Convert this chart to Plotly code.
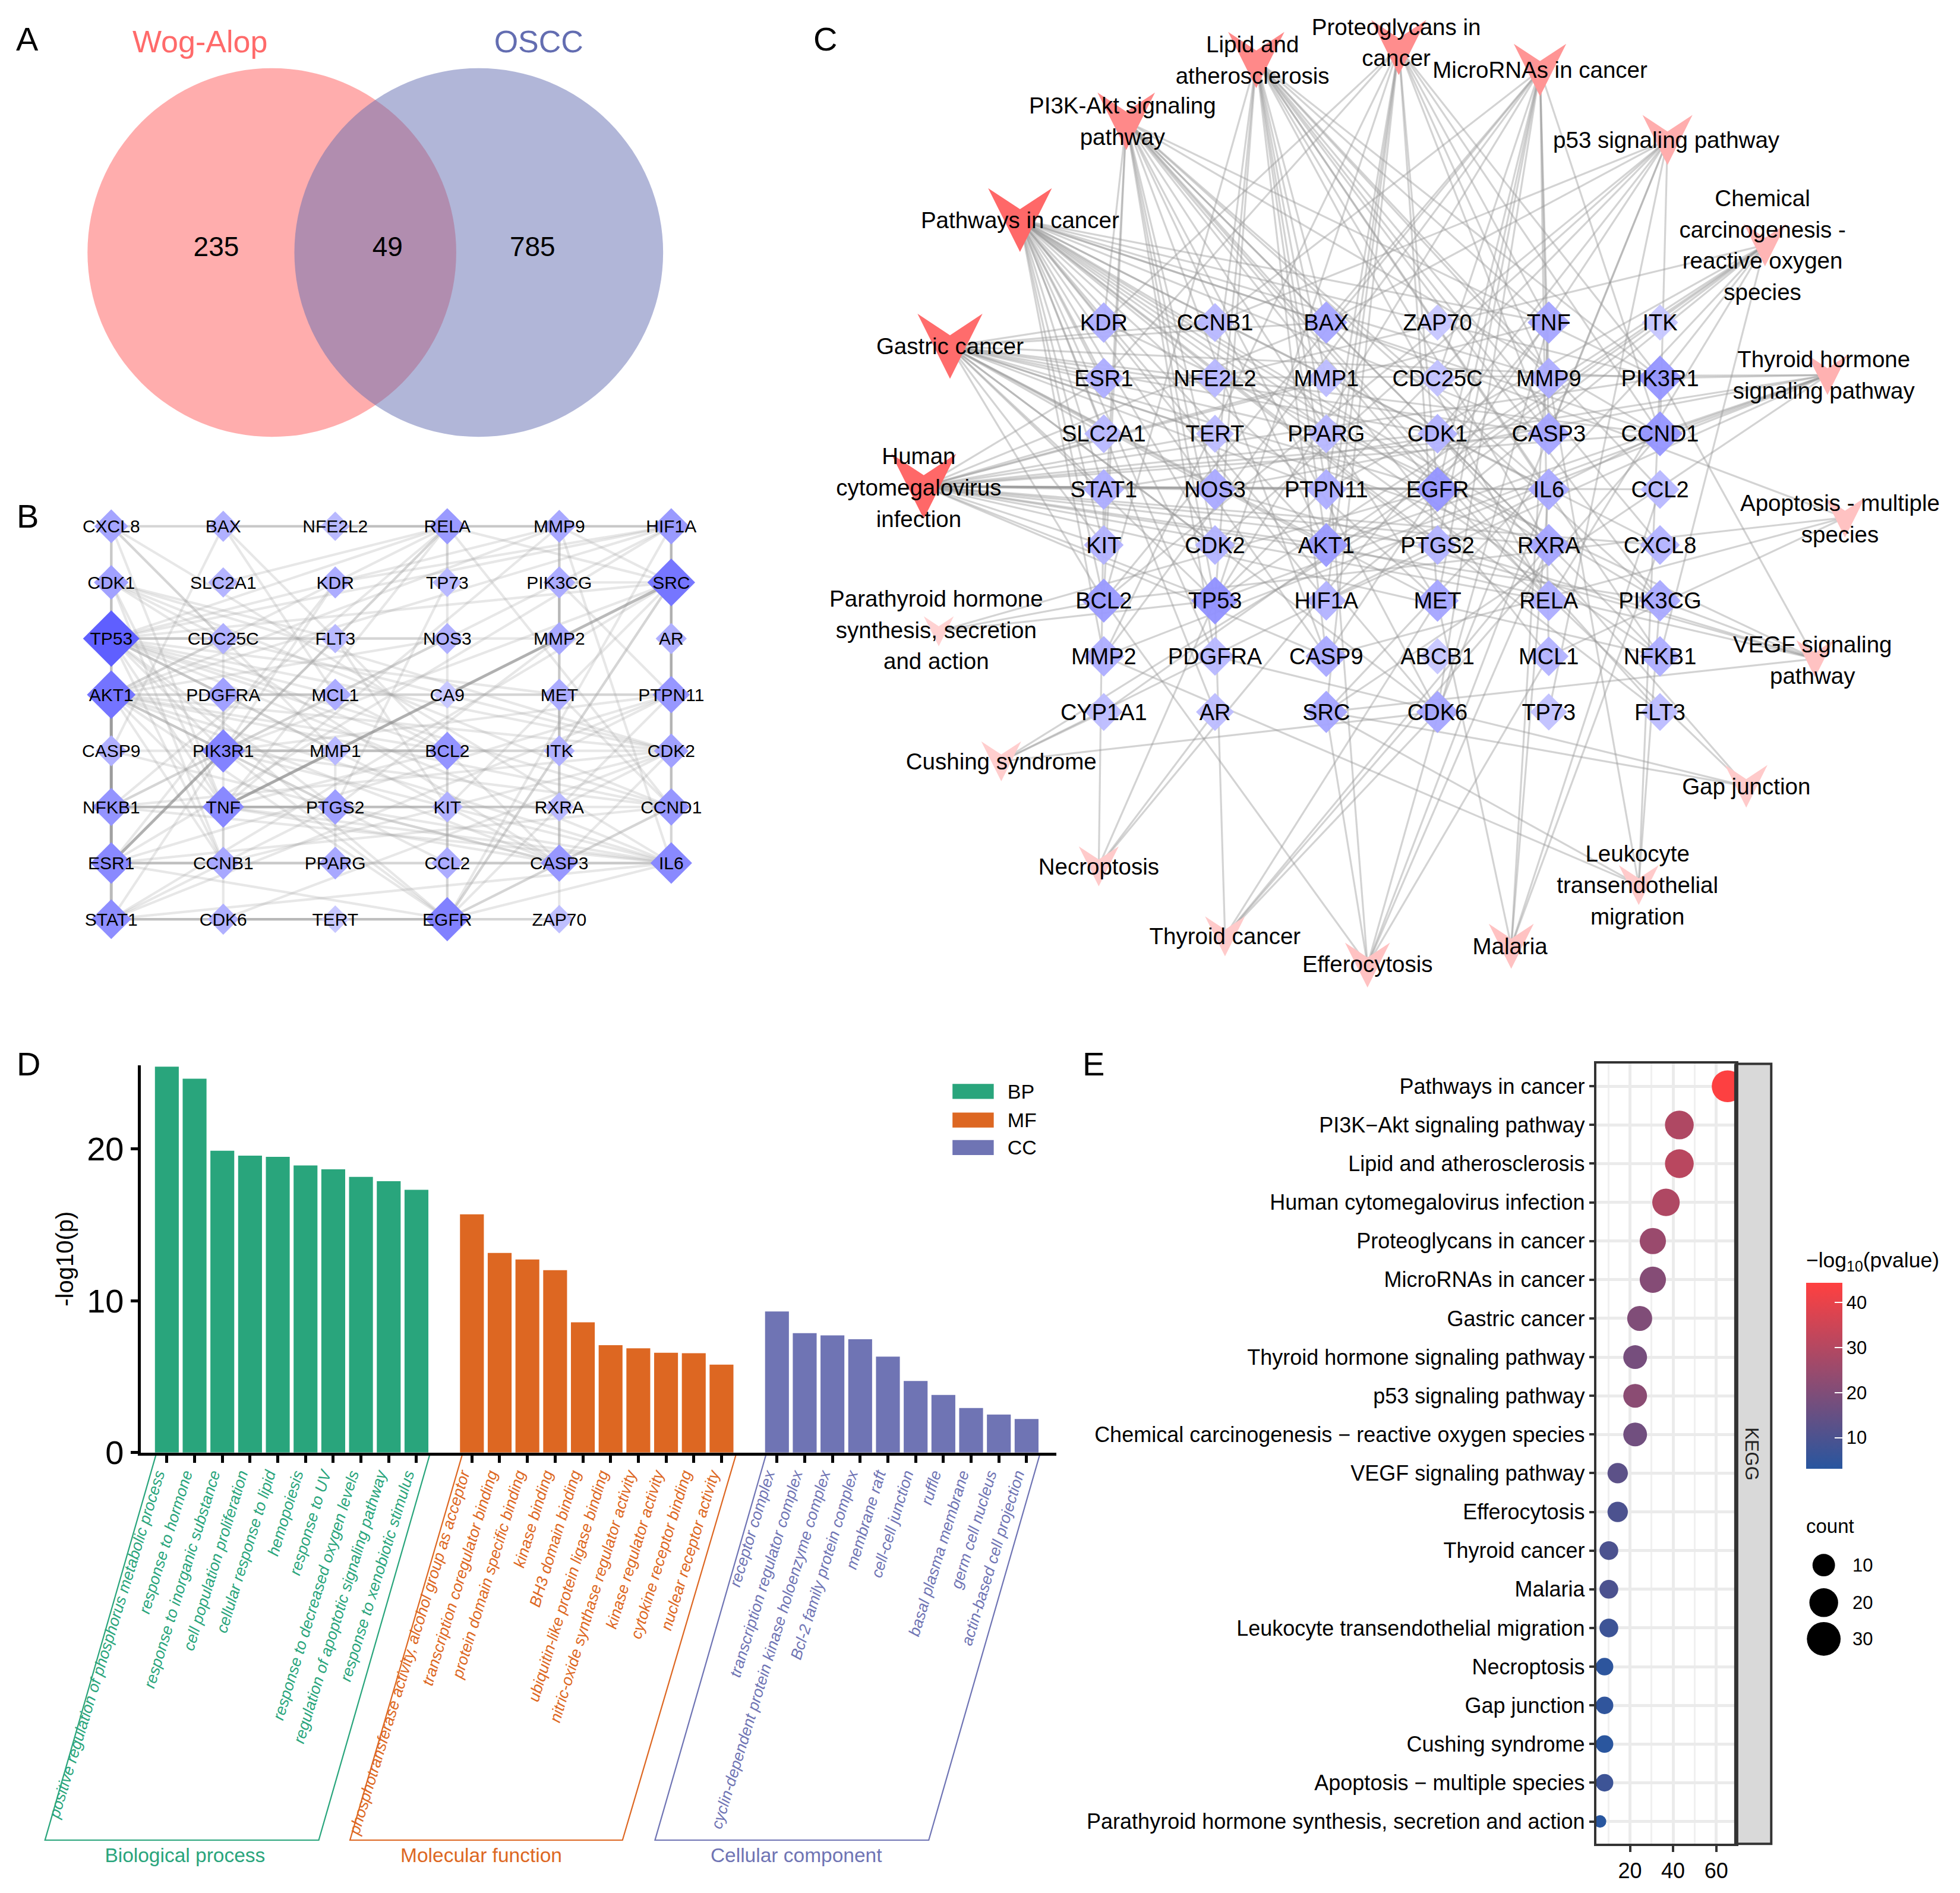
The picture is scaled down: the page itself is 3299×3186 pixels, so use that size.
import numpy as np
import plotly.graph_objects as go

W, H = 3299, 3186
S = W / 1568.0          # layout grid unit -> output px
FONT = "Liberation Sans"

# ---------- A: Venn ----------
venn_sets = ["Wog-Alop", "OSCC"]
venn_counts = ["235", "49", "785"]

# ---------- B: PPI network ----------
b_genes = [
    ["CXCL8", "BAX", "NFE2L2", "RELA", "MMP9", "HIF1A"],
    ["CDK1", "SLC2A1", "KDR", "TP73", "PIK3CG", "SRC"],
    ["TP53", "CDC25C", "FLT3", "NOS3", "MMP2", "AR"],
    ["AKT1", "PDGFRA", "MCL1", "CA9", "MET", "PTPN11"],
    ["CASP9", "PIK3R1", "MMP1", "BCL2", "ITK", "CDK2"],
    ["NFKB1", "TNF", "PTGS2", "KIT", "RXRA", "CCND1"],
    ["ESR1", "CCNB1", "PPARG", "CCL2", "CASP3", "IL6"],
    ["STAT1", "CDK6", "TERT", "EGFR", "ZAP70"],
]
b_degree = [
    [10, 7, 5, 13, 9, 13],
    [11, 6, 8, 5, 8, 26],
    [36, 7, 5, 7, 9, 7],
    [27, 11, 8, 3, 8, 14],
    [7, 21, 5, 15, 7, 11],
    [15, 19, 12, 7, 5, 14],
    [19, 9, 9, 8, 14, 19],
    [17, 7, 3, 22, 4],
]
b_links = {
    "TP53": "CXCL8 CDK1 AKT1 STAT1 CDC25C PDGFRA PIK3R1 TNF CCNB1 MCL1 MMP1 MMP2 PTGS2 BCL2 RELA HIF1A MMP9 MET CASP3 CCND1 IL6 EGFR SRC CDK2 NOS3",
    "AKT1": "CDK1 PIK3R1 TNF CCNB1 CDC25C PTGS2 BCL2 CCL2 EGFR MMP9 RELA HIF1A MET CASP3 CCND1 IL6 PTPN11 CDK2 NOS3",
    "SRC": "TNF PIK3R1 PIK3CG EGFR CCND1 STAT1 KIT ITK PTPN11 HIF1A AR RELA MMP9",
    "PIK3R1": "NFKB1 ESR1 STAT1 KDR FLT3 NOS3 BCL2 EGFR PTPN11 ITK CCND1 IL6 RELA PDGFRA CDK2",
    "EGFR": "ESR1 STAT1 CDK6 TERT CASP3 IL6 ZAP70 CCND1 ITK KIT PTPN11 HIF1A CCL2",
    "TNF": "CXCL8 CDK1 NFKB1 CCNB1 PTGS2 IL6 CASP3 MMP9 RELA MMP1 MMP2 BCL2 RXRA",
    "IL6": "CXCL8 STAT1 NFKB1 ESR1 CCL2 CASP3 HIF1A MMP9 PTGS2 CCND1",
    "ESR1": "CCNB1 PPARG CCND1 RELA CASP3 KDR HIF1A PTPN11",
    "STAT1": "CDK6 TERT ZAP70 PTPN11 PTGS2",
    "NFKB1": "CXCL8 CCND1 PTGS2 KIT RXRA RELA HIF1A CDK2",
    "CCND1": "CDK1 CDK2 CASP3 HIF1A RELA MET",
    "BCL2": "CASP9 CASP3 MCL1 BAX KIT CCL2 NOS3",
    "CASP3": "CASP9 CDK1 PTGS2 ITK RXRA CDK2",
    "RELA": "CXCL8 BAX NFE2L2 MMP9 HIF1A NOS3 TP73 SLC2A1",
    "HIF1A": "MMP9 KDR PTPN11 CDK2 NFE2L2",
    "PTPN11": "MET AR CDK2 PIK3CG ITK",
    "CDK1": "CXCL8 CCNB1 CDC25C CDK2 FLT3",
    "CDK2": "CCNB1 CDK6 CDC25C RXRA AR",
    "PTGS2": "PPARG MMP1 MMP2 TP73",
    "MMP9": "MMP2 PIK3CG ITK",
    "CXCL8": "BAX CDC25C MMP1",
    "BAX": "NFE2L2 CASP9 MCL1",
    "PDGFRA": "CDC25C CCNB1 MCL1",
    "CCNB1": "CDK6",
    "KIT": "CCL2 FLT3",
    "MET": "ITK",
    "PIK3CG": "MMP2 ZAP70 RXRA",
    "CDK6": "TERT",
}
b_strong = ["AKT1 CASP9", "CASP9 NFKB1", "NFKB1 ESR1", "ESR1 STAT1", "SRC TNF", "ESR1 PIK3R1", "AKT1 ESR1"]

# ---------- C: gene-pathway network ----------
c_genes = [
    ["KDR", "CCNB1", "BAX", "ZAP70", "TNF", "ITK"],
    ["ESR1", "NFE2L2", "MMP1", "CDC25C", "MMP9", "PIK3R1"],
    ["SLC2A1", "TERT", "PPARG", "CDK1", "CASP3", "CCND1"],
    ["STAT1", "NOS3", "PTPN11", "EGFR", "IL6", "CCL2"],
    ["KIT", "CDK2", "AKT1", "PTGS2", "RXRA", "CXCL8"],
    ["BCL2", "TP53", "HIF1A", "MET", "RELA", "PIK3CG"],
    ["MMP2", "PDGFRA", "CASP9", "ABCB1", "MCL1", "NFKB1"],
    ["CYP1A1", "AR", "SRC", "CDK6", "TP73", "FLT3"],
]
pathways = [
    "Pathways in cancer", "Gastric cancer", "Human cytomegalovirus infection",
    "Parathyroid hormone synthesis, secretion and action", "Cushing syndrome",
    "Necroptosis", "Thyroid cancer", "Efferocytosis", "Malaria",
    "Leukocyte transendothelial migration", "Gap junction", "VEGF signaling pathway",
    "Apoptosis - multiple species", "Thyroid hormone signaling pathway",
    "Chemical carcinogenesis - reactive oxygen species", "p53 signaling pathway",
    "MicroRNAs in cancer", "Proteoglycans in cancer", "Lipid and atherosclerosis",
    "PI3K-Akt signaling pathway",
]
pathway_labels = [
    ["Pathways in cancer"], ["Gastric cancer"], ["Human", "cytomegalovirus", "infection"],
    ["Parathyroid hormone", "synthesis, secretion", "and action"], ["Cushing syndrome"],
    ["Necroptosis"], ["Thyroid cancer"], ["Efferocytosis"], ["Malaria"],
    ["Leukocyte", "transendothelial", "migration"], ["Gap junction"], ["VEGF signaling", "pathway"],
    ["Apoptosis - multiple", "species"], ["Thyroid hormone", "signaling pathway"],
    ["Chemical", "carcinogenesis -", "reactive oxygen", "species"], ["p53 signaling pathway"],
    ["MicroRNAs in cancer"], ["Proteoglycans in", "cancer"], ["Lipid and", "atherosclerosis"],
    ["PI3K-Akt signaling", "pathway"],
]
pathway_genes = [
    "KDR BAX TNF ESR1 NFE2L2 MMP9 PIK3R1 SLC2A1 CASP3 CCND1 STAT1 EGFR IL6 KIT AKT1 PTGS2 RXRA CXCL8 BCL2 TP53 HIF1A MET RELA PIK3CG MMP2 PDGFRA CASP9 NFKB1 AR CDK6 FLT3 CDK2",
    "EGFR CCND1 AKT1 PIK3R1 TP53 MET RXRA CDK6 BAX BCL2 CDK2 SLC2A1 NOS3 PTPN11 STAT1 KIT CDK1 TERT PPARG CASP3 KDR CCNB1 ESR1",
    "BAX TNF PIK3R1 CCND1 CDK1 CASP3 STAT1 EGFR IL6 CCL2 AKT1 PTGS2 CXCL8 TP53 RELA PIK3CG CASP9 NFKB1 NOS3 PTPN11 SLC2A1 TERT RXRA ESR1 MMP1 KIT",
    "EGFR TP53 BCL2",
    "CYP1A1 EGFR CCND1 CDK6",
    "STAT1 AR TNF TP53",
    "CCND1 TP53 RXRA CDK6 MET",
    "BCL2 MCL1 RXRA PPARG TNF SRC IL6",
    "TNF IL6 MET CXCL8 CCL2",
    "MMP2 MMP9 PIK3R1 PIK3CG SRC",
    "SRC CDK1 EGFR PDGFRA",
    "KDR PIK3R1 NOS3 PTGS2 AKT1 SRC PIK3CG",
    "BAX BCL2 MCL1 CASP9",
    "ESR1 PIK3R1 CCND1 STAT1 AKT1 TP53 HIF1A SRC MMP2 NOS3",
    "NFE2L2 PIK3R1 AKT1 EGFR HIF1A TP53 CYP1A1 SRC NFKB1 RELA PTPN11",
    "CCNB1 BAX CDK1 CASP3 CCND1 CDK2 TP53 CASP9 CDK6 TP73 BCL2",
    "CCNB1 BAX CDC25C MMP9 CCND1 CASP3 EGFR CDK6 MET TP53 PTGS2 BCL2 MMP2 MCL1",
    "KDR TNF ESR1 MMP9 PIK3R1 CCND1 PTPN11 EGFR AKT1 TP53 HIF1A MET MMP2 CASP3 SRC",
    "BAX TNF NFE2L2 MMP1 MMP9 PIK3R1 CASP3 PPARG NOS3 PTPN11 IL6 CCL2 AKT1 RXRA CXCL8 BCL2 TP53 RELA PIK3CG CASP9 NFKB1",
    "KDR PIK3R1 CCND1 EGFR IL6 KIT CDK2 AKT1 RXRA BCL2 TP53 MET RELA PIK3CG PDGFRA CASP9 MCL1 NFKB1 CDK6 FLT3 NOS3",
]
# degree shown by each pathway node's colour
pathway_degree = [32, 28, 30, 3, 4, 5, 5, 7, 7, 5, 5, 7, 7, 11, 10, 12, 18, 20, 21, 21]
# network layout of the pathway nodes, and of the label blocks (layout grid units)
pw_layout_x = [816, 760, 739, 751, 801, 879, 980, 1094, 1209, 1311, 1397, 1452, 1476, 1462, 1412, 1334, 1232, 1119, 1005, 901]
pw_layout_y = [176, 277, 389, 505, 609, 693, 749, 772, 757, 708, 629, 527, 414, 300, 196, 112, 56, 38, 48, 97]
pw_width = [51, 52, 52, 24, 32, 32, 32, 36, 36, 32, 34, 30, 32, 32, 34, 40, 42, 44, 45, 46]
lab_layout_x = [816, 760, 735, 749, 801, 879, 980, 1094, 1208, 1310, 1397, 1450, 1472, 1459, 1410, 1333, 1232, 1117, 1002, 898]
lab_layout_y = [176, 277, 390, 504, 609, 693, 749, 771, 757, 708, 629, 528, 415, 300, 196, 112, 56, 34, 48, 97]

# ---------- D: GO bars ----------
bp_terms = ["positive regulation of phosphorus metabolic process", "response to hormone",
            "response to inorganic substance", "cell population proliferation",
            "cellular response to lipid", "hemopoiesis", "response to UV",
            "response to decreased oxygen levels", "regulation of apoptotic signaling pathway",
            "response to xenobiotic stimulus"]
bp_values = [25.4, 24.6, 19.86, 19.54, 19.46, 18.9, 18.64, 18.14, 17.86, 17.29]
mf_terms = ["phosphotransferase activity, alcohol group as acceptor", "transcription coregulator binding",
            "protein domain specific binding", "kinase binding", "BH3 domain binding",
            "ubiquitin-like protein ligase binding", "nitric-oxide synthase regulator activity",
            "kinase regulator activity", "cytokine receptor binding", "nuclear receptor activity"]
mf_values = [15.68, 13.14, 12.71, 12.0, 8.57, 7.07, 6.86, 6.57, 6.54, 5.79]
cc_terms = ["receptor complex", "transcription regulator complex",
            "cyclin-dependent protein kinase holoenzyme complex", "Bcl-2 family protein complex",
            "membrane raft", "cell-cell junction", "ruffle", "basal plasma membrane",
            "germ cell nucleus", "actin-based cell projection"]
cc_values = [9.29, 7.86, 7.71, 7.46, 6.32, 4.71, 3.79, 2.93, 2.5, 2.21]
go_groups = ["Biological process", "Molecular function", "Cellular component"]
go_short = ["BP", "MF", "CC"]

# ---------- E: KEGG dots ----------
kegg_terms = ["Pathways in cancer", "PI3K\u2212Akt signaling pathway", "Lipid and atherosclerosis",
              "Human cytomegalovirus infection", "Proteoglycans in cancer", "MicroRNAs in cancer",
              "Gastric cancer", "Thyroid hormone signaling pathway", "p53 signaling pathway",
              "Chemical carcinogenesis \u2212 reactive oxygen species", "VEGF signaling pathway",
              "Efferocytosis", "Thyroid cancer", "Malaria", "Leukocyte transendothelial migration",
              "Necroptosis", "Gap junction", "Cushing syndrome", "Apoptosis \u2212 multiple species",
              "Parathyroid hormone synthesis, secretion and action"]
kegg_ratio = [65.3, 42.9, 42.9, 36.7, 30.6, 30.6, 24.5, 22.4, 22.4, 22.4, 14.3, 14.3, 10.2, 10.2, 10.2, 8.2, 8.2, 8.2, 8.2, 6.1]
kegg_count = [32, 21, 21, 18, 15, 15, 12, 11, 11, 11, 7, 7, 5, 5, 5, 4, 4, 4, 4, 3]
kegg_logp = [44, 29, 31, 29, 25, 21, 20, 18, 22, 17, 13, 10, 10, 10, 7, 4, 4.5, 3.5, 7, 3]
size_legend = [10, 20, 30]

# ---------- colours ----------
PINK, BLUE_V = "#ff6a6a", "#636db1"
C_BP, C_MF, C_CC = "#29a57c", "#dd6722", "#6f74b4"
BAR_COLORS = [C_BP, C_MF, C_CC]


def mix(c0, c1, t):
    t = min(max(t, 0), 1)
    a = [int(c0[i:i + 2], 16) for i in (1, 3, 5)]
    b = [int(c1[i:i + 2], 16) for i in (1, 3, 5)]
    return "rgb(%d,%d,%d)" % tuple(round(x + (y - x) * t) for x, y in zip(a, b))


def px(v):
    return v * S


def fx(v):
    return v * S / W


def fy(v):
    return 1 - v * S / H


fig = go.Figure()


def edge(x0, y0, x1, y1, color, width):
    fig.add_trace(go.Scatter(x=[x0, x1], y=[y0, y1], mode="lines", xaxis="x", yaxis="y",
                             line=dict(color=color, width=width), hoverinfo="skip", showlegend=False))


def text_trace(xs, ys, texts, size, color="#000000", pos="middle center"):
    dy = 0.1 * size / S       # optical centring of the text block
    fig.add_trace(go.Scatter(x=xs, y=[y + dy for y in ys], text=texts, mode="text", xaxis="x", yaxis="y",
                             textposition=pos, cliponaxis=False,
                             textfont=dict(family=FONT, size=size, color=color),
                             hoverinfo="skip", showlegend=False))


# ---------- draw A ----------
shapes = []
for cx, col, op in [(217.5, "#ff6a6a", 0.55), (383, "#636db1", 0.5)]:
    shapes.append(dict(type="circle", xref="x", yref="y", x0=cx - 147.5, x1=cx + 147.5, y0=54.5, y1=349.5,
                       fillcolor=col, opacity=op, line=dict(width=0), layer="below"))
text_trace([160], [33], [venn_sets[0]], 52, PINK)
text_trace([431], [33], [venn_sets[1]], 52, BLUE_V)
text_trace([173, 310, 426], [197, 197, 197], venn_counts, 46)

# ---------- draw B ----------
bx = lambda c: 89 + c * 89.6
by = lambda r: 421 + r * 44.9
b_pos = {g: (bx(c), by(r)) for r, row in enumerate(b_genes) for c, g in enumerate(row)}
seen = set()
for hub, others in b_links.items():
    for o in others.split():
        key = tuple(sorted((hub, o)))
        if key in seen or hub == o:
            continue
        seen.add(key)
        edge(*b_pos[hub], *b_pos[o], "rgba(165,165,165,0.27)", 4.2)
for pair in b_strong:
    a, b = pair.split()
    edge(*b_pos[a], *b_pos[b], "rgba(130,130,130,0.45)", 5)

b_flat = [g for row in b_genes for g in row]
b_deg = [d for row in b_degree for d in row]
fig.add_trace(go.Scatter(
    x=[b_pos[g][0] for g in b_flat], y=[b_pos[g][1] for g in b_flat], mode="markers", xaxis="x", yaxis="y",
    marker=dict(symbol="diamond", opacity=1, size=[px(20 + 0.7 * d) / 1.3 for d in b_deg],
                color=[mix("#c8c8ff", "#5f5fff", ((d - 3) / 33) ** 0.7) for d in b_deg], line=dict(width=0)),
    hoverinfo="skip", showlegend=False))
text_trace([b_pos[g][0] for g in b_flat], [b_pos[g][1] for g in b_flat], b_flat, 30)

# ---------- draw C ----------
cx_ = lambda c: 883 + c * 89
cy_ = lambda r: 258 + r * 44.5
c_pos = {g: (cx_(c), cy_(r)) for r, row in enumerate(c_genes) for c, g in enumerate(row)}
c_flat = [g for row in c_genes for g in row]
pw_sets = [p.split() for p in pathway_genes]
c_deg = {g: sum(g in s for s in pw_sets) for g in c_flat}
for x0, y0, gs in zip(pw_layout_x, pw_layout_y, pw_sets):
    for g in gs:
        edge(x0, y0, *c_pos[g], "rgba(150,150,150,0.42)", 3.2)

fig.add_trace(go.Scatter(
    x=[c_pos[g][0] for g in c_flat], y=[c_pos[g][1] for g in c_flat], mode="markers", xaxis="x", yaxis="y",
    marker=dict(symbol="diamond", opacity=0.95, size=[px(29 + 0.7 * c_deg[g]) / 1.3 for g in c_flat],
                color=[mix("#c6c6ff", "#9090ff", c_deg[g] / 11) for g in c_flat], line=dict(width=0)),
    hoverinfo="skip", showlegend=False))
for x0, y0, w, d in zip(pw_layout_x, pw_layout_y, pw_width, pathway_degree):
    h = w
    fig.add_trace(go.Scatter(
        x=[x0 - w / 2, x0, x0 + w / 2, x0, x0 - w / 2],
        y=[y0 - h / 2, y0 - h * 0.17, y0 - h / 2, y0 + h / 2, y0 - h / 2],
        mode="lines", fill="toself", fillcolor=mix("#ffd2d2", "#ff6868", (d - 3) / 26),
        line=dict(width=0), xaxis="x", yaxis="y", hoverinfo="skip", showlegend=False))
text_trace([c_pos[g][0] for g in c_flat], [c_pos[g][1] for g in c_flat], c_flat, 38)
lab_x, lab_y, lab_t = [], [], []
for lx, ly, lines in zip(lab_layout_x, lab_layout_y, pathway_labels):
    for i, line in enumerate(lines):
        lab_x.append(lx)
        lab_y.append(ly + (i - (len(lines) - 1) / 2) * 25)
        lab_t.append(line)
text_trace(lab_x, lab_y, lab_t, 38.5)

# ---------- draw D ----------
go_cats, tick_vals, tick_text = [], [], []
for gi, (terms, vals, col) in enumerate(zip([bp_terms, mf_terms, cc_terms], [bp_values, mf_values, cc_values], BAR_COLORS)):
    fig.add_trace(go.Bar(x=terms, y=vals, marker=dict(color=col, line=dict(width=0)), width=0.86,
                         xaxis="x2", yaxis="y2", hoverinfo="skip", showlegend=False))
    go_cats += terms
    if gi < 2:
        go_cats.append(" " * (gi + 1))
    tick_vals += terms
    tick_text += ['<i><span style="color:%s">%s</span></i>' % (col, t) for t in terms]

for (xbl, xbr, xtr, xtl), col, name, lx in zip(
        [(36, 255, 344, 125), (280, 498, 589, 370), (524, 743, 832, 613)], BAR_COLORS, go_groups, [148, 385, 637]):
    shapes.append(dict(type="path", xref="x", yref="y",
                       path="M%g,1472 L%g,1472 L%g,1163 L%g,1163 Z" % (xbl, xbr, xtr, xtl),
                       line=dict(color=col, width=2.2), fillcolor="rgba(0,0,0,0)", layer="below"))
    text_trace([lx], [1484], [name], 33.5, col)

for yy, col, name in zip([873, 896, 918], BAR_COLORS, go_short):
    shapes.append(dict(type="rect", xref="x", yref="y", x0=762, x1=795, y0=yy - 6, y1=yy + 6,
                       fillcolor=col, line=dict(width=0), layer="below"))
    text_trace([806], [yy], [name], 34, pos="middle right")

# ---------- draw E ----------
knots_c, knots_d = [3, 4, 5, 7, 11, 12, 15, 21, 32], [10, 14, 15, 16.3, 19, 20, 21, 23, 25.4]
fig.add_trace(go.Scatter(
    x=kegg_ratio, y=kegg_terms, mode="markers", xaxis="x3", yaxis="y3", cliponaxis=True,
    marker=dict(size=[px(float(np.interp(c, knots_c, knots_d))) for c in kegg_count], opacity=1,
                color=kegg_logp, cmin=3.05, cmax=44.4,
                colorscale=[[0, "#28569f"], [1, "#ff4040"]], line=dict(width=0),
                colorbar=dict(x=fx(1445), xanchor="left", xpad=0, ypad=0, y=fy(1175), yanchor="bottom",
                              len=149 * S / H, lenmode="fraction", thickness=px(29), thicknessmode="pixels",
                              outlinewidth=0, tickmode="array", tickvals=[10, 20, 30, 40],
                              ticktext=["10", "20", "30", "40"], ticks="inside", ticklen=13, tickwidth=2,
                              tickcolor="white", tickfont=dict(family=FONT, size=31, color="#000"))),
    hoverinfo="skip", showlegend=False))
shapes.append(dict(type="rect", xref="x", yref="y", x0=1389, x1=1417, y0=851, y1=1475,
                   fillcolor="#d9d9d9", line=dict(color="#333333", width=4), layer="above"))
shapes.append(dict(type="line", xref="x", yref="y", x0=1389, x1=1389, y0=851, y1=1475,
                   line=dict(color="#333333", width=7), layer="above"))

fig.add_trace(go.Scatter(x=[1459, 1459, 1459], y=[1252, 1282, 1311], mode="markers", xaxis="x", yaxis="y",
                         marker=dict(size=[px(d) for d in (18, 23, 27)], opacity=1, color="#000", line=dict(width=0)),
                         hoverinfo="skip", showlegend=False))
text_trace([1482, 1482, 1482], [1252, 1282, 1311], [str(v) for v in size_legend], 31, pos="middle right")

annotations = []
for t, x, y in [("A", 22, 31), ("B", 22, 413), ("C", 660, 31), ("D", 23, 851), ("E", 875, 851)]:
    annotations.append(dict(text=t, xref="x", yref="y", x=x, y=y, showarrow=False,
                            font=dict(family=FONT, size=56, color="#000")))
annotations += [
    dict(text="count", xref="x", yref="y", x=1444, y=1221, xanchor="left", showarrow=False,
         font=dict(family=FONT, size=33, color="#000")),
    dict(text="\u2212log<sub>10</sub>(pvalue)", xref="x", yref="y", x=1444, y=1009, xanchor="left", showarrow=False,
         font=dict(family=FONT, size=35.5, color="#000")),
    dict(text="KEGG", xref="x", yref="y", x=1401, y=1163, textangle=90, showarrow=False,
         font=dict(family=FONT, size=31, color="#222")),
]

fig.update_layout(
    width=W, height=H, margin=dict(l=0, r=0, t=0, b=0, autoexpand=False), paper_bgcolor="white",
    plot_bgcolor="rgba(0,0,0,0)",
    showlegend=False, shapes=shapes, annotations=annotations, bargap=0.14,
    xaxis=dict(domain=[0, 1], range=[0, W / S], visible=False, fixedrange=True),
    yaxis=dict(domain=[0, 1], range=[H / S, 0], visible=False, fixedrange=True),
    xaxis2=dict(domain=[fx(112.5), fx(845)], anchor="y2", type="category", categoryorder="array",
                categoryarray=go_cats, range=[-0.946, 32.07], tickmode="array", tickvals=tick_vals,
                ticktext=tick_text, tickangle=-73, ticks="outside", ticklen=12, tickwidth=5, tickcolor="#000",
                linecolor="#000", linewidth=5, showgrid=False, zeroline=False, ticklabelshift=-16,
                ticklabelstandoff=-6, tickfont=dict(family=FONT, size=26.5)),
    yaxis2=dict(domain=[fy(1162), fy(852)], anchor="x2", range=[0, 25.5], tickvals=[0, 10, 20],
                ticks="outside", ticklen=12, tickwidth=5, tickcolor="#000", linecolor="#000", linewidth=5,
                showgrid=False, zeroline=False, tickfont=dict(family=FONT, size=56, color="#000"),
                title=dict(text="-log10(p)", font=dict(family=FONT, size=40, color="#000"), standoff=12)),
    xaxis3=dict(domain=[fx(1277), fx(1389)], anchor="y3", range=[4.35, 69.3], tickvals=[20, 40, 60],
                ticks="outside", ticklen=10, tickwidth=4, tickcolor="#333", showline=True, linecolor="#333",
                linewidth=4, mirror=True, showgrid=True, gridcolor="#ebebeb", gridwidth=5, zeroline=False,
                minor=dict(dtick=10, showgrid=True, gridcolor="#f0f0f0", gridwidth=3, ticks=""),
                tickfont=dict(family=FONT, size=36, color="#000")),
    yaxis3=dict(domain=[fy(1475), fy(851)], anchor="x3", type="category", categoryorder="array",
                categoryarray=kegg_terms, range=[19.58, -0.58], ticks="outside", ticklen=8, tickwidth=4,
                tickcolor="#333", showline=True, linecolor="#333", linewidth=4, mirror=True, showgrid=True,
                gridcolor="#ebebeb", gridwidth=5, zeroline=False, tickmode="array", tickvals=kegg_terms,
                ticktext=kegg_terms, tickfont=dict(family=FONT, size=36, color="#000")),
)

fig.write_html("out.html", config=dict(displayModeBar=False),
               post_script="document.body.style.margin='0';document.documentElement.style.overflow='hidden';")
